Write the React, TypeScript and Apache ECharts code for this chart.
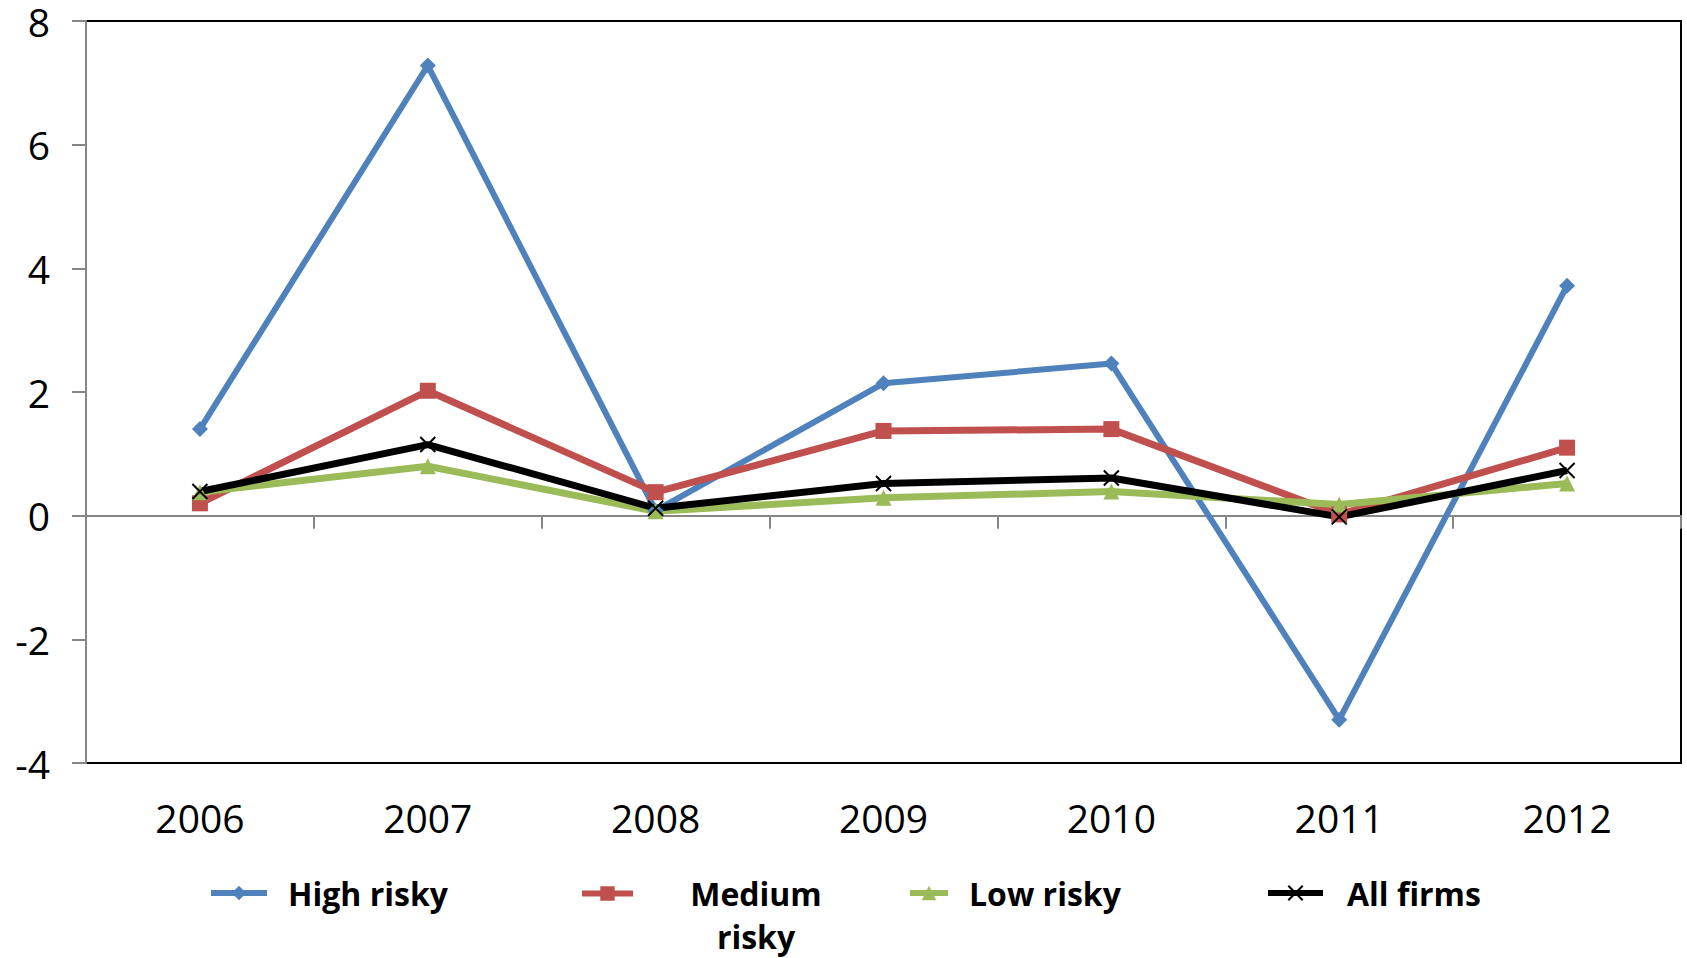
import React, { useEffect, useRef } from "react";
import * as echarts from "echarts";

const years = ["2006", "2007", "2008", "2009", "2010", "2011", "2012"];
const highRisky = [1.4, 7.28, 0.08, 2.14, 2.46, -3.3, 3.72];
const mediumRisky = [0.2, 2.02, 0.38, 1.37, 1.4, 0.02, 1.1];
const lowRisky = [0.38, 0.8, 0.07, 0.29, 0.39, 0.18, 0.52];
const allFirms = [0.39, 1.15, 0.12, 0.52, 0.61, -0.02, 0.73];
const seriesNames = ["High risky", "Medium risky", "Low risky", "All firms"];

const TICK_FONT = "'Open Sans', 'Noto Sans', sans-serif";
const LEG_FONT = "'Open Sans', 'Noto Sans', sans-serif";

export default function App() {
  const ref = useRef<HTMLDivElement>(null);
  useEffect(() => {
    document.body.style.margin = "0";
    const chart = echarts.init(ref.current!, null, { renderer: "svg" });
    const legText = {
      fontFamily: LEG_FONT,
      fontWeight: "bold",
      fontSize: 32,
      color: "#000",
      lineHeight: 40,
      padding: [0, 0, 0, 16],
    };
    const legCommon = {
      padding: 0,
      itemHeight: 18,
      lineStyle: { width: 6 },
    };
    chart.setOption({
      animation: false,
      backgroundColor: "#fff",
      grid: {
        left: 86,
        right: 6,
        top: 21,
        bottom: 195,
        show: true,
        borderColor: "#000",
        borderWidth: 2,
        backgroundColor: "transparent",
      },
      xAxis: [
        {
          type: "category",
          data: years,
          position: "bottom",
          boundaryGap: true,
          axisLine: { show: false, onZero: false },
          axisTick: { show: false },
          axisLabel: {
            margin: 35,
            fontSize: 39,
            fontFamily: TICK_FONT,
            color: "#000",
          },
          splitLine: { show: false },
        },
        {
          type: "category",
          data: years,
          position: "bottom",
          boundaryGap: true,
          axisLine: { show: true, onZero: true, lineStyle: { color: "#868686", width: 2 } },
          axisTick: { show: true, length: 13, lineStyle: { color: "#868686", width: 2 } },
          axisLabel: { show: false },
          splitLine: { show: false },
        },
      ],
      yAxis: {
        type: "value",
        min: -4,
        max: 8,
        interval: 2,
        axisLine: { show: true, lineStyle: { color: "#868686", width: 2 } },
        axisTick: { show: true, length: 14, lineStyle: { color: "#868686", width: 2 } },
        axisLabel: { margin: 36, fontSize: 39, fontFamily: TICK_FONT, color: "#000" },
        splitLine: { show: false },
      },
      legend: [
        {
          ...legCommon,
          data: [seriesNames[0]],
          left: 208,
          top: 873,
          itemWidth: 56,
          textStyle: legText,
        },
        {
          ...legCommon,
          data: [seriesNames[1]],
          left: 579,
          top: 829,
          itemWidth: 51,
          formatter: () => "{m|Medium}\n{m|risky}",
          textStyle: {
            ...legText,
            lineHeight: 43,
            padding: [43, 0, 0, 0],
            rich: {
              m: {
                width: 236,
                align: "center",
                fontFamily: LEG_FONT,
                fontWeight: "bold",
                fontSize: 32,
                color: "#000",
                lineHeight: 43,
              },
            },
          },
        },
        {
          ...legCommon,
          data: [seriesNames[2]],
          left: 907,
          top: 873,
          itemWidth: 38,
          textStyle: legText,
        },
        {
          ...legCommon,
          data: [seriesNames[3]],
          left: 1265,
          top: 873,
          itemWidth: 55,
          textStyle: { ...legText, padding: [0, 0, 0, 19] },
        },
      ],
      series: [
        {
          name: seriesNames[0],
          type: "line",
          data: highRisky,
          symbol: "diamond",
          symbolSize: 16,
          lineStyle: { color: "#4F81BD", width: 6 },
          itemStyle: { color: "#4F81BD" },
        },
        {
          name: seriesNames[1],
          type: "line",
          data: mediumRisky,
          symbol: "rect",
          symbolSize: 16,
          lineStyle: { color: "#C0504D", width: 7 },
          itemStyle: { color: "#C0504D" },
        },
        {
          name: seriesNames[2],
          type: "line",
          data: lowRisky,
          symbol: "triangle",
          symbolSize: 16,
          lineStyle: { color: "#9BBB59", width: 7 },
          itemStyle: { color: "#9BBB59" },
        },
        {
          name: seriesNames[3],
          type: "line",
          data: allFirms,
          symbol: "path://M0 0L10 10M10 0L0 10",
          symbolSize: 15,
          lineStyle: { color: "#000", width: 7 },
          itemStyle: { color: "#000", borderColor: "#000", borderWidth: 2 },
        },
      ],
    });
    return () => chart.dispose();
  }, []);
  return <div ref={ref} style={{ width: 1687, height: 958 }} />;
}
